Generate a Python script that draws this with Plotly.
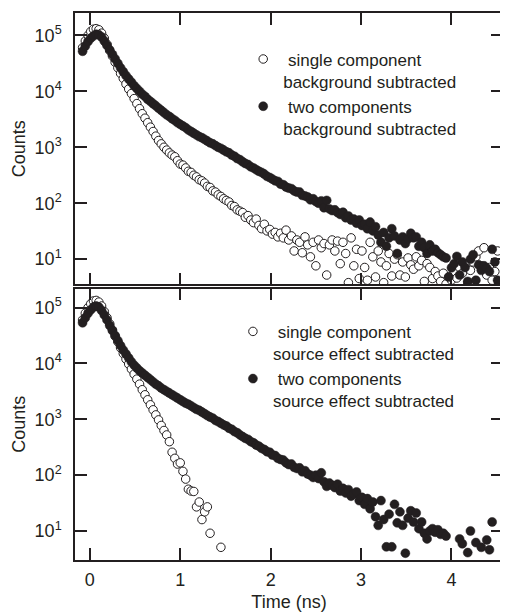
import plotly.graph_objects as go

# time axis (ns)
time_ns = [-0.08, -0.05, -0.02, 0.01, 0.04, 0.07, 0.10, 0.13, 0.16, 0.19,
           0.22, 0.25, 0.28, 0.31, 0.34, 0.37, 0.40, 0.43, 0.46, 0.49,
           0.52, 0.55, 0.58, 0.61, 0.64, 0.67, 0.70, 0.73, 0.76, 0.79,
           0.82, 0.85, 0.88, 0.91, 0.94, 0.97, 1.00, 1.03, 1.06, 1.09,
           1.12, 1.15, 1.18, 1.21, 1.24, 1.27, 1.30, 1.33, 1.36, 1.39,
           1.42, 1.45, 1.48, 1.51, 1.54, 1.57, 1.60, 1.63, 1.66, 1.69,
           1.72, 1.75, 1.78, 1.81, 1.84, 1.87, 1.90, 1.93, 1.96, 1.99,
           2.02, 2.05, 2.08, 2.11, 2.14, 2.17, 2.20, 2.23, 2.26, 2.29,
           2.32, 2.35, 2.38, 2.41, 2.44, 2.47, 2.50, 2.53, 2.56, 2.59,
           2.62, 2.65, 2.68, 2.71, 2.74, 2.77, 2.80, 2.83, 2.86, 2.89,
           2.92, 2.95, 2.98, 3.01, 3.04, 3.07, 3.10, 3.13, 3.16, 3.19,
           3.22, 3.25, 3.28, 3.31, 3.34, 3.37, 3.40, 3.43, 3.46, 3.49,
           3.52, 3.55, 3.58, 3.61, 3.64, 3.67, 3.70, 3.73, 3.76, 3.79,
           3.82, 3.85, 3.88, 3.91, 3.94, 3.97, 4.00, 4.03, 4.06, 4.09,
           4.12, 4.15, 4.18, 4.21, 4.24, 4.27, 4.30, 4.33, 4.36, 4.39,
           4.42, 4.45, 4.48, 4.51]

# top panel: background subtracted
bg_two = [52000, 64500, 77600, 89100, 97700, 104700, 102300, 93300, 79400, 66100,
          55000, 45700, 38000, 31600, 26300, 22400, 19100, 16600, 14500, 12600,
          11200, 10000, 8900, 8100, 7200, 6600, 6000, 5500, 5000, 4570,
          4170, 3800, 3550, 3240, 3020, 2750, 2570, 2400, 2240, 2040,
          1910, 1780, 1660, 1550, 1480, 1380, 1290, 1200, 1150, 1070,
          1000, 955, 890, 830, 795, 725, 690, 630, 600, 550,
          513, 490, 447, 427, 398, 372, 355, 331, 302, 288,
          269, 251, 245, 219, 214, 195, 186, 182, 166, 158,
          158, 138, 135, 129, 115, 120, 107, 100, 110, 83,
          112, 79, 74, 76, 68, 63, 69, 55, 59, 50,
          52, 44, 50, 40, 42, 35, 46, 32, 38, 27,
          20, 30, 17, 24, 35, 26, 12.6, 22, 25, 19,
          23, 29, 24, 25, 17, 20, 16, 12.6, 18, 14,
          15, 13, 12, 11, 10.5, 4.8, 7, 8.3, 11.2, 5.2,
          8.9, 7.1, 4, 10, 12, 4.2, 7.9, 6.3, 7.6, 6.9,
          6, 15, 8.9, 4.2]

bg_single = [60300, 79400, 100000, 117500, 128800, 131800, 125900, 109600, 89100, 69200,
             53700, 42700, 33100, 26300, 20900, 17000, 13500, 11000, 9120, 7410,
             6030, 4900, 3980, 3310, 2750, 2290, 1910, 1580, 1320, 1150,
             1000, 890, 794, 724, 676, 575, 501, 479, 427, 372,
             355, 316, 295, 263, 251, 229, 200, 191, 166, 158,
             141, 132, 120, 112, 105, 91, 87, 76, 72, 68,
             56, 60, 50, 45, 52, 40, 35, 42, 32, 34,
             28, 30, 25, 29, 24, 33, 22, 26, 14, 22,
             20, 13, 25, 18, 11, 20, 7.6, 22, 16, 19,
             5.2, 18, 22, 14, 21, 8.3, 20, 12.6, 3.8, 24,
             7.6, 15, 4.5, 14, 7.1, 4.2, 20, 11, 4.8, 14,
             8.9, 3.8, 7.6, 12.6, 5, 10, 12, 5.2, 8.9, 4.8,
             10.5, 7.9, 6.6, 11, 7.6, 9.5, 4, 8.3, 7.1, 4.5,
             6, 5, 4, 5.6, 3.6, 4.8, 4.2, 6, 4.6, 7.1,
             5.6, 7.9, 3.8, 6.3, 8.9, 11, 14, 7.6, 16, 5.2,
             7.1, 4.2, 6, 14]

# bottom panel: source effect subtracted
src_two = [53700, 66100, 79400, 91200, 102300, 107200, 102300, 89100, 74100, 60300,
           47900, 38900, 31600, 25700, 20900, 17400, 14800, 12600, 10700, 9330,
           8320, 7410, 6760, 6170, 5620, 5130, 4680, 4270, 3980, 3630,
           3390, 3160, 2950, 2750, 2570, 2400, 2240, 2090, 1950, 1860,
           1740, 1620, 1510, 1450, 1350, 1260, 1170, 1100, 1050, 955,
           912, 851, 794, 759, 692, 661, 603, 575, 525, 490,
           457, 437, 398, 380, 347, 331, 302, 288, 263, 257,
           229, 224, 200, 191, 186, 166, 155, 158, 138, 132,
           135, 115, 120, 105, 100, 91, 100, 87, 110, 76,
           63, 72, 66, 60, 69, 52, 58, 48, 55, 42,
           46, 50, 35, 40, 30, 38, 25, 33, 18, 12.6,
           35, 16, 5.2, 20, 5.2, 30, 14, 22, 12.6, 4,
           17, 23, 14.5, 21, 11, 14.5, 9.1, 7.2, 10, 11,
           9.5, 10.5, 8.7, 9.1, 8.1, None, None, None, None, 7.2,
           5.9, None, 4.1, 10, None, 6.2, None, 5.1, None, 6.9,
           4.6, 14.5, None, None]

src_single_time = time_ns[:48] + [1.45]
src_single = [60300, 79400, 100000, 117500, 131800, 134900, 125900, 107200, 85100, 66100,
              51300, 39800, 30900, 24500, 19100, 15100, 12000, 9770, 7940, 6460,
              5250, 4270, 3390, 2750, 2240, 1820, 1480, 1200, 977, 776,
              631, 525, 398, 257, 200, 158, 166, 117, 85, 56,
              52, 51, 27, 33, 16, 22, 27, 9.1,
              5.1]

y_tickvals = [10, 100, 1000, 10000, 100000]
y_ticktext = ["10<sup>1</sup>", "10<sup>2</sup>", "10<sup>3</sup>", "10<sup>4</sup>", "10<sup>5</sup>"]
x_tickvals = [0, 1, 2, 3, 4]

INK = "#231f20"
FONT = "Liberation Sans, Arial, sans-serif"

open_marker = dict(symbol="circle", size=8.5, color="white", line=dict(color=INK, width=1))
fill_marker = dict(symbol="circle", size=9, color=INK, line=dict(color=INK, width=0.5))

fig = go.Figure()
fig.add_trace(go.Scatter(x=time_ns, y=bg_single, mode="markers", marker=open_marker,
                         name="&nbsp;single component<br>background subtracted",
                         xaxis="x", yaxis="y", legend="legend"))
fig.add_trace(go.Scatter(x=time_ns, y=bg_two, mode="markers", marker=fill_marker,
                         name="&nbsp;two components<br>background subtracted",
                         xaxis="x", yaxis="y", legend="legend"))
fig.add_trace(go.Scatter(x=src_single_time, y=src_single, mode="markers", marker=open_marker,
                         name="&nbsp;single component<br>source effect subtracted",
                         xaxis="x2", yaxis="y2", legend="legend2"))
fig.add_trace(go.Scatter(x=time_ns, y=src_two, mode="markers", marker=fill_marker,
                         name="&nbsp;two components<br>source effect subtracted",
                         xaxis="x2", yaxis="y2", legend="legend2"))

common_x = dict(range=[-0.164, 4.57], tickvals=x_tickvals, ticks="inside", ticklen=12,
                tickwidth=1.5, tickcolor=INK, showline=True, linecolor=INK, linewidth=1.5,
                mirror="ticks", showgrid=False, zeroline=False,
                tickfont=dict(size=18, color=INK, family=FONT), ticklabelstandoff=3)
common_y = dict(type="log", tickvals=y_tickvals, ticktext=y_ticktext, ticks="inside",
                ticklen=12, tickwidth=1.5, tickcolor=INK, showline=True, linecolor=INK,
                linewidth=1.5, mirror="ticks", showgrid=False, zeroline=False,
                tickfont=dict(size=18, color=INK, family=FONT), ticklabelstandoff=8,
                title=dict(text="Counts", font=dict(size=18, color=INK, family=FONT), standoff=4))

fig.update_layout(
    width=500, height=604,
    margin=dict(l=67, r=3, t=4, b=51),
    paper_bgcolor="white", plot_bgcolor="white",
    font=dict(family=FONT, color=INK, size=18),
    xaxis=dict(common_x, anchor="y", showticklabels=False),
    xaxis2=dict(common_x, anchor="y2", matches="x",
                title=dict(text="Time (ns)", font=dict(size=18, color=INK, family=FONT), standoff=6)),
    yaxis=dict(common_y, domain=[0.5040, 1.0], range=[0.55, 5.40]),
    yaxis2=dict(common_y, domain=[0.0, 0.4960], range=[0.48, 5.34]),
    legend=dict(x=0.393, y=0.948, xanchor="left", yanchor="top", valign="top",
                bgcolor="rgba(0,0,0,0)", font=dict(size=17, color=INK, family=FONT),
                tracegroupgap=0, itemclick=False),
    legend2=dict(x=0.369, y=0.45, xanchor="left", yanchor="top", valign="top",
                 bgcolor="rgba(0,0,0,0)", font=dict(size=17, color=INK, family=FONT),
                 tracegroupgap=0, itemclick=False),
)

fig.write_html("out.html")
